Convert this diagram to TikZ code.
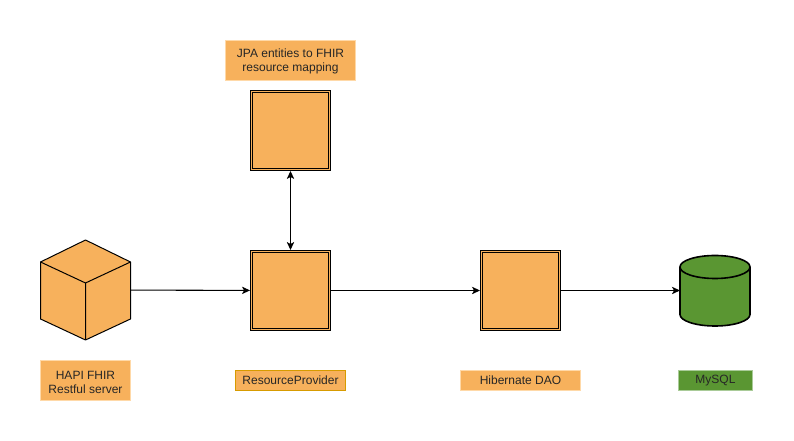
\documentclass[tikz,border=0pt]{standalone}
\usepackage{fontspec}
\setmainfont{Liberation Sans}
\usetikzlibrary{arrows.meta}
\definecolor{boxorange}{HTML}{F7B15C}
\definecolor{lightorange}{HTML}{FFD9A8}
\definecolor{darkorange}{HTML}{D79B00}
\definecolor{dbgreen}{HTML}{5A9632}
\definecolor{lightgreen}{HTML}{A9CB98}

\begin{document}
\begin{tikzpicture}[x=0.75pt, y=-0.75pt,
    component/.style={draw=black, fill=boxorange, double=boxorange,
      line width=0.75pt, double distance=0.75pt, minimum size=58.5pt,
      inner sep=0pt, outer sep=1.1pt},
    lab/.style={inner sep=0pt, align=center, text=black!85,
      font=\fontsize{9}{10.5}\selectfont, line width=0.75pt},
    solid/.style={draw=black, fill=#1, line join=round},
    conn/.style={line width=0.8pt, -{Stealth[length=6pt, width=5.5pt, inset=1.5pt]}},
    biconn/.style={line width=0.8pt, {Stealth[length=6pt, width=5.5pt, inset=1.5pt]}-{Stealth[length=6pt, width=5.5pt, inset=1.5pt]}}]
      \useasboundingbox (0,0) rectangle (794,441);

      \foreach \al/\x/\y in {%
        mapping/290.5/130.5,%
        provider/290.5/290.5,%
        dao/520.5/290.5%
      }{ \node[component] (\al) at (\x,\y) {}; }

      % the cube and the database are drawn round empty nodes
      \node[minimum width=67.5pt, minimum height=75pt, inner sep=0pt, outer sep=0pt] (hapi) at (85.5,290) {};
      \begin{scope}[shift={(hapi)}]
        \draw[solid=boxorange, line width=0.75pt] (0,-50) -- (45,-28) -- (45,29) -- (0,50)
          -- (-45,29) -- (-45,-28) -- cycle;
        \draw[line width=0.75pt, line join=round] (-45,-28) -- (0,-7) -- (45,-28) (0,-7) -- (0,50);
      \end{scope}

      \node[minimum width=52.5pt, minimum height=53pt, inner sep=0pt, outer sep=0pt] (mysql) at (715,290.5) {};
      \begin{scope}[shift={(mysql)}]
        \draw[solid=dbgreen, line width=1.2pt] (-35,-23.5) arc[start angle=180, end angle=360, x radius=35, y radius=11.5]
          -- (35,24) arc[start angle=0, end angle=180, x radius=35, y radius=11.5] -- cycle;
        \draw[line width=1.2pt] (-35,-23.5) arc[start angle=180, end angle=0, x radius=35, y radius=11.5];
      \end{scope}

      \foreach \al/\x/\y/\w/\h/\fillc/\drawc/\lab in {%
        jpalab/290.5/60.5/97.5/30/boxorange/lightorange/{\rule{0pt}{8.6pt}JPA entities to FHIR\\ resource mapping},%
        hapilab/85.5/380.5/67.5/30/boxorange/lightorange/{\rule{0pt}{8.6pt}HAPI FHIR\\ Restful server},%
        providerlab/290.5/380.5/82.5/15/boxorange/darkorange/ResourceProvider,%
        daolab/520.5/380.5/90/15/boxorange/lightorange/Hibernate DAO,%
        mysqllab/715.5/380.5/55.5/15/dbgreen/lightgreen/MySQL%
      }{ \node[lab, fill=\fillc, draw=\drawc, minimum width=\w pt, minimum height=\h pt] (\al) at (\x,\y) {\lab}; }

      \draw[biconn] (mapping) -- (provider);
      \foreach \from/\to in {%
        hapi/provider, provider/dao, dao/mysql%
      }{ \draw[conn] (\from) -- (\to); }
    \end{tikzpicture}
\end{document}
